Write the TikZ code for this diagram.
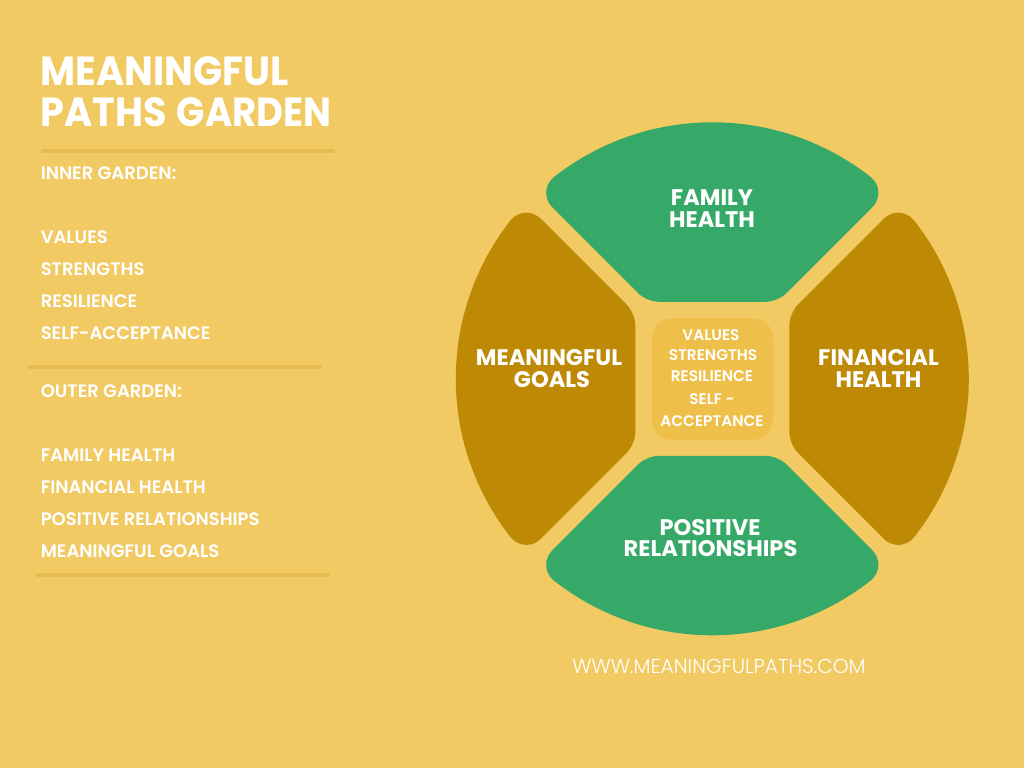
\documentclass[tikz,border=0pt]{standalone}
\usepackage{graphicx}
\usepackage{fontspec}
\setmainfont{Poppins}
\newfontfamily\popsemi{Poppins SemiBold}
\newfontfamily\poplight{Poppins Light}
\newfontfamily\poptitle[FakeStretch=0.94]{Poppins Bold}
\definecolor{bgc}{HTML}{F1CA63}
\definecolor{greenc}{HTML}{36A968}
\definecolor{brownc}{HTML}{BE8A05}
\definecolor{midc}{HTML}{EFC049}
\definecolor{rulec}{HTML}{E6BC50}
\tikzset{
  x=0.75pt,y=0.75pt,
  rulebar/.style={draw=rulec,line width=3pt},
  titletext/.style={anchor=base west,inner sep=0,text=white,font=\poptitle\fontsize{30.5}{30.5}\selectfont},
  listtext/.style={anchor=base west,inner sep=0,text=white,font=\popsemi\fontsize{13.5}{13.5}\selectfont},
  pettext/.style={anchor=base,inner sep=0,text=white,font=\bfseries\fontsize{16.9}{16.9}\selectfont},
  midtext/.style={anchor=base,inner sep=0,text=white,font=\popsemi\fontsize{11.5}{11.5}\selectfont},
  webtext/.style={anchor=base,inner sep=0,text=white,font=\poplight\fontsize{15.1}{15.1}\selectfont},
}
\newcommand{\petalshape}{(159,201.3) arc[start angle=51.7,end angle=128.3,radius=256.5]
  .. controls (-168.1,193.4) and (-168.5,180) .. (-160,171.5)
  -- (-74,85.5) .. controls (-69.3,80.8) and (-60,77) .. (-53.5,77)
  -- (53.5,77) .. controls (60,77) and (69.3,80.8) .. (74,85.5)
  -- (160,171.5) .. controls (168.5,180) and (168.1,193.4) .. (159,201.3) -- cycle}
\begin{document}
\begin{tikzpicture}
\fill[bgc] (0,0) rectangle (1024,-768);
\useasboundingbox (0,0) rectangle (1024,-768);
\begin{scope}[shift={(712.3,-378.8)}]
  \fill[greenc] \petalshape;
  \fill[greenc,rotate=180] \petalshape;
  \fill[brownc,rotate=90] \petalshape;
  \fill[brownc,rotate=-90] \petalshape;
\end{scope}
\node[fill=midc,rounded corners=15pt,minimum width=90.75pt,minimum height=91pt,inner sep=0] (mid) at (712.5,-379) {};
\node[titletext] (t1) at (40.5,-85) {MEANINGFUL};
\node[titletext] (t2) at (40.5,-126) {PATHS\hspace{7.5pt}\scalebox{0.97}[1]{GARDEN}};
\coordinate (r1a) at (41,-151); \coordinate (r1b) at (335,-151);
\coordinate (r2a) at (28,-367); \coordinate (r2b) at (322,-367);
\coordinate (r3a) at (36,-575); \coordinate (r3b) at (329.5,-575);
\draw[rulebar] (r1a) -- (r1b);
\draw[rulebar] (r2a) -- (r2b);
\draw[rulebar] (r3a) -- (r3b);
\node[listtext] (l1) at (40.5,-179) {INNER GARDEN:};
\node[listtext] (l2) at (40.5,-243) {VALUES};
\node[listtext] (l3) at (40.5,-275) {STRENGTHS};
\node[listtext] (l4) at (40.5,-307) {RESILIENCE};
\node[listtext] (l5) at (40.5,-339) {SELF-ACCEPTANCE};
\node[listtext] (l6) at (40.5,-397) {OUTER GARDEN:};
\node[listtext] (l7) at (40.5,-461) {FAMILY HEALTH};
\node[listtext] (l8) at (40.5,-493) {FINANCIAL HEALTH};
\node[listtext] (l9) at (40.5,-525) {POSITIVE RELATIONSHIPS};
\node[listtext] (l10) at (40.5,-557) {MEANINGFUL GOALS};
\node[pettext] (p1) at (712,-205) {FAMILY};
\node[pettext] (p2) at (712,-227) {HEALTH};
\node[pettext] (p3) at (878.5,-365) {FINANCIAL};
\node[pettext] (p4) at (878.5,-387) {HEALTH};
\node[pettext] (p5) at (549,-365) {MEANINGFUL};
\node[pettext] (p6) at (552,-387) {GOALS};
\node[pettext] (p7) at (710,-535.5) {POSITIVE};
\node[pettext] (p8) at (710.5,-556.5) {RELATIONSHIPS};
\node[midtext] (m1) at (711,-340) {VALUES};
\node[midtext] (m2) at (713,-360) {STRENGTHS};
\node[midtext] (m3) at (712,-381) {RESILIENCE};
\node[midtext] (m4) at (712,-404) {SELF -};
\node[midtext] (m5) at (712,-426) {ACCEPTANCE};
\node[webtext] (w) at (719,-673) {WWW.MEANINGFULPATHS.COM};
\end{tikzpicture}
\end{document}
